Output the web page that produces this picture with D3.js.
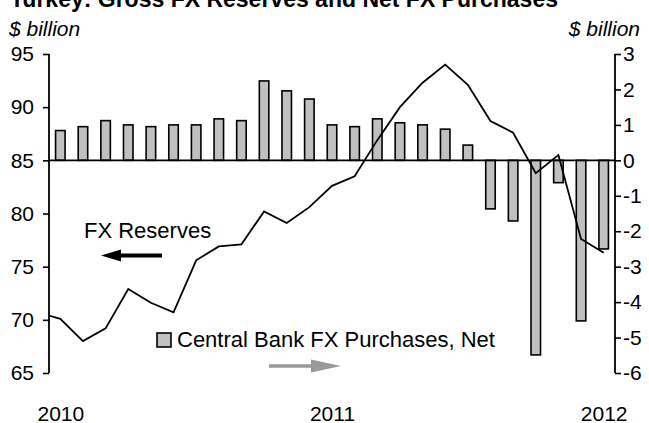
<!DOCTYPE html>
<html>
<head>
<meta charset="utf-8">
<script src="https://cdn.jsdelivr.net/npm/d3@7"></script>
<style>
  html, body { margin: 0; padding: 0; background: #fff; }
  svg { display: block; font-family: "Liberation Sans", Arial, Helvetica, sans-serif; }
</style>
</head>
<body>
<svg id="chart" width="649" height="423"></svg>
<script>
// ---- Data ----
const months = ["2009-12",
  "2010-01","2010-02","2010-03","2010-04","2010-05","2010-06","2010-07","2010-08","2010-09","2010-10","2010-11","2010-12",
  "2011-01","2011-02","2011-03","2011-04","2011-05","2011-06","2011-07","2011-08","2011-09","2011-10","2011-11","2011-12",
  "2012-01"];
// Gross FX reserves, $ billion (left axis)
const reserves = [70.7,
  70.1, 68.0, 69.2, 72.9, 71.6, 70.7, 75.6, 76.9, 77.1, 80.2, 79.1, 80.6,
  82.6, 83.5, 86.9, 90.0, 92.3, 94.0, 92.1, 88.7, 87.6, 83.8, 85.5, 77.6,
  76.3];
// Central bank net FX purchases, $ billion (right axis), Jan 2010 .. Jan 2012
const purchaseMonths = months.slice(1);
const purchases = [
  0.84, 0.95, 1.12, 1.00, 0.95, 1.00, 1.00, 1.17, 1.12, 2.24, 1.96, 1.73,
  1.00, 0.95, 1.17, 1.06, 1.00, 0.88, 0.43, -1.37, -1.71, -5.49, -0.63, -4.53,
  -2.50];
const leftTicks = [65, 70, 75, 80, 85, 90, 95];
const rightTicks = [-6, -5, -4, -3, -2, -1, 0, 1, 2, 3];
const yearTicks = ["2010-01", "2011-01", "2012-01"];
const yearLabels = ["2010", "2011", "2012"];

// ---- Layout ----
const svg = d3.select("#chart");
const L = 49, R = 615, T = 54, B = 373;

const x = d3.scaleLinear().domain([0.5, months.length - 0.5]).range([L, R]);
const xi = m => x(months.indexOf(m));
const yL = d3.scaleLinear().domain([65, 95]).range([B, T]);
const yR = d3.scaleLinear().domain([-6, 3]).range([B, T]);
const step = x(1) - x(0);
const barW = step * 0.42;

// Title (partially cut off at top, as in the reference)
svg.append("text")
  .attr("x", 10).attr("y", 7)
  .attr("font-size", 23).attr("font-weight", "bold")
  .text("Turkey: Gross FX Reserves and Net FX Purchases");

// Unit labels
svg.append("text").attr("x", 9).attr("y", 36)
  .attr("font-size", 21).attr("font-style", "italic").text("$ billion");
svg.append("text").attr("x", 640).attr("y", 36).attr("text-anchor", "end")
  .attr("font-size", 21).attr("font-style", "italic").text("$ billion");

// Clip for plot area
svg.append("defs").append("clipPath").attr("id", "plot")
  .append("rect").attr("x", L).attr("y", 0).attr("width", R - L).attr("height", 423);

// Bars
svg.append("g").selectAll("rect")
  .data(purchases)
  .join("rect")
  .attr("x", (d, i) => xi(purchaseMonths[i]) - barW / 2)
  .attr("width", barW)
  .attr("y", d => yR(Math.max(0, d)))
  .attr("height", d => Math.abs(yR(d) - yR(0)))
  .attr("fill", "#c0c0c0")
  .attr("stroke", "#000")
  .attr("stroke-width", 1.6);

// Zero line
svg.append("line")
  .attr("x1", L).attr("x2", R)
  .attr("y1", yR(0)).attr("y2", yR(0))
  .attr("stroke", "#000").attr("stroke-width", 1.8);

// Reserves line
svg.append("path")
  .datum(reserves)
  .attr("clip-path", "url(#plot)")
  .attr("fill", "none")
  .attr("stroke", "#000")
  .attr("stroke-width", 1.8)
  .attr("d", d3.line().x((d, i) => x(i)).y(d => yL(d)));

// Axes
const axL = svg.append("g").attr("transform", `translate(${L},0)`)
  .call(d3.axisLeft(yL).tickValues(leftTicks).tickSize(6).tickPadding(9).tickSizeOuter(0));
const axR = svg.append("g").attr("transform", `translate(${R},0)`)
  .call(d3.axisRight(yR).tickValues(rightTicks).tickSize(6).tickPadding(2).tickSizeOuter(0)
    .tickFormat(d => String(d)));
[axL, axR].forEach(g => {
  g.select(".domain").attr("stroke", "#000").attr("stroke-width", 1.8).attr("d", `M0,${T}V${B}`);
  g.selectAll(".tick line").attr("stroke", "#000").attr("stroke-width", 1.6);
  g.selectAll(".tick text").attr("font-size", 21).attr("fill", "#000")
    .attr("font-family", "'Liberation Sans', Arial, sans-serif");
});

// Year labels
const axB = svg.append("g").attr("transform", `translate(0,${B})`)
  .call(d3.axisBottom(x)
    .tickValues(yearTicks.map(m => months.indexOf(m)))
    .tickFormat((d, i) => yearLabels[i])
    .tickSize(0).tickPadding(0));
axB.select(".domain").remove();
axB.selectAll(".tick text").attr("font-size", 21).attr("fill", "#000")
  .attr("font-family", "'Liberation Sans', Arial, sans-serif")
  .attr("dy", null).attr("y", 47.5);

// Legend: FX Reserves with black arrow pointing left
svg.append("text").attr("x", 84).attr("y", 238).attr("font-size", 22).text("FX Reserves");
svg.append("line")
  .attr("x1", 118).attr("y1", 255.5).attr("x2", 162).attr("y2", 255.5)
  .attr("stroke", "#000").attr("stroke-width", 4);
svg.append("path")
  .attr("d", "M101,255.5 L121,249.5 L121,261.5 Z")
  .attr("fill", "#000");

// Legend: Central Bank FX Purchases with gray arrow pointing right
svg.append("rect").attr("x", 157).attr("y", 333).attr("width", 14).attr("height", 14)
  .attr("fill", "#c0c0c0").attr("stroke", "#000").attr("stroke-width", 1.6);
svg.append("text").attr("x", 177).attr("y", 346.5).attr("font-size", 22)
  .text("Central Bank FX Purchases, Net");
svg.append("line")
  .attr("x1", 269).attr("y1", 366).attr("x2", 314).attr("y2", 366)
  .attr("stroke", "#999").attr("stroke-width", 3.5);
svg.append("path")
  .attr("d", "M341,366 L311,359.5 L311,372.5 Z")
  .attr("fill", "#999");
</script>
</body>
</html>
